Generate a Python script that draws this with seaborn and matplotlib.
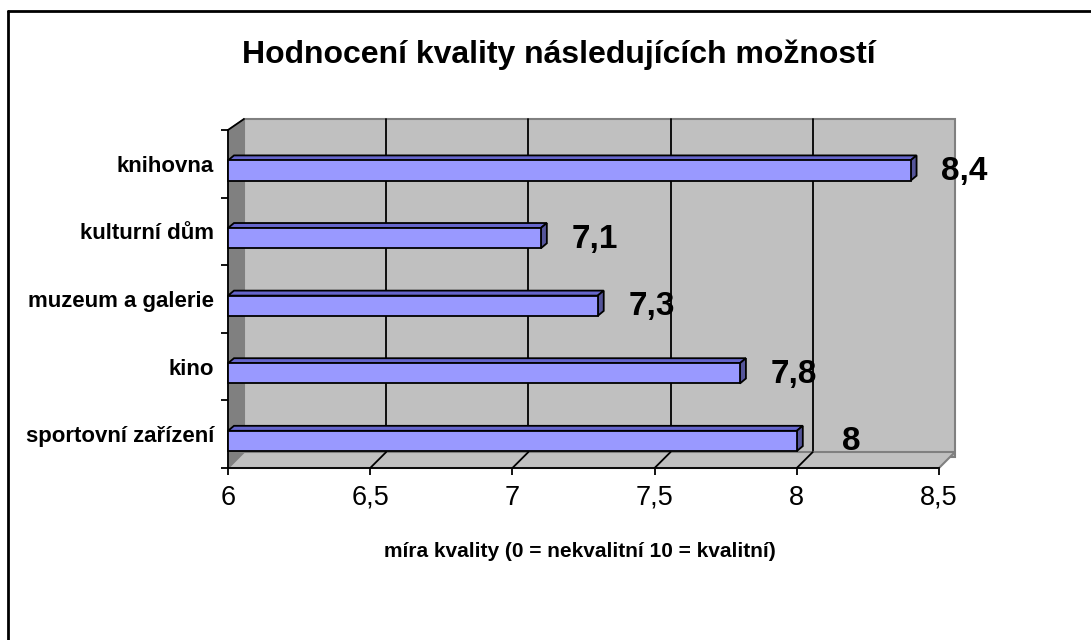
import numpy as np
import pandas as pd
import matplotlib
matplotlib.use('Agg')
import matplotlib.pyplot as plt
import seaborn as sns
from matplotlib.patches import Polygon
from matplotlib.lines import Line2D

categories = ['knihovna', 'kulturní dům', 'muzeum a galerie', 'kino', 'sportovní zařízení']
values = [8.4, 7.1, 7.3, 7.8, 8.0]
value_labels = ['8,4', '7,1', '7,3', '7,8', '8']
x_ticks = [6, 6.5, 7, 7.5, 8, 8.5]
x_tick_labels = ['6', '6,5', '7', '7,5', '8', '8,5']

title = 'Hodnocení kvality následujících možností'
x_title = 'míra kvality (0 = nekvalitní 10 = kvalitní)'

W, H = 1091, 640
sns.set_style('white')
plt.rcParams['font.family'] = ['Liberation Sans', 'DejaVu Sans']
plt.rcParams['text.color'] = 'black'
plt.rcParams['xtick.color'] = 'black'
plt.rcParams['ytick.color'] = 'black'
plt.rcParams['axes.labelcolor'] = 'black'

fig = plt.figure(figsize=(W / 100, H / 100), dpi=100)
# front plane of the 3d plot area (pixels: x 228..939, y 130..468)
ax = fig.add_axes([228 / W, 1 - 468 / H, 711 / W, 338 / H])

df = pd.DataFrame({'kategorie': categories, 'hodnota': values})
sns.barplot(data=df, x='hodnota', y='kategorie', orient='h', width=0.3,
            color='#9999ff', saturation=1, edgecolor='black', linewidth=1.3,
            ax=ax, zorder=5)
bars = list(ax.patches)

x0, x1 = x_ticks[0], x_ticks[-1]
ybot, ytop = 4.4, -0.6
ax.set_xlim(x0, x1)
ax.set_ylim(ybot, ytop)

# pixel offsets for the fake 3d depth
sx = 711 / (x1 - x0)
sy = 338 / (ybot - ytop)


def off(x, y, dxp=16, dyp=11):
    return (x + dxp / sx, y - dyp / sy)


def poly(pts, fc, ec, z, lw=1.0):
    ax.add_patch(Polygon(pts, closed=True, facecolor=fc, edgecolor=ec,
                         linewidth=lw, zorder=z, clip_on=False))


# back wall, side wall, floor (floor has some thickness)
poly([off(x0, ytop), off(x1, ytop), off(x1, ybot), off(x0, ybot)], '#c0c0c0', '#808080', 0, 1.5)
poly([(x0, ytop), off(x0, ytop), off(x0, ybot), (x0, ybot)], '#808080', '#808080', 0.5)
poly([(x0, ybot), (x1, ybot), off(x1, ybot, 16, 16), off(x0, ybot, 16, 16)], '#c0c0c0', '#808080', 0.6, 1.5)
ax.add_line(Line2D(*zip((x0, ytop), off(x0, ytop)), color='black', lw=1.3, zorder=1, clip_on=False))

# gridlines on the wall and the floor
for t in x_ticks[1:-1]:
    ax.add_line(Line2D(*zip(off(t, ybot), off(t, ytop)), color='black', lw=1.3, zorder=0.2, clip_on=False))
    ax.add_line(Line2D(*zip((t, ybot), off(t, ybot, 16, 16)), color='black', lw=1.3, zorder=1, clip_on=False))

# bars: start at the axis, add top and side faces
for bar, val, lbl in zip(bars, values, value_labels):
    y = bar.get_y()
    h = bar.get_height()
    bar.set_x(x0)
    bar.set_width(val - x0)
    bar.set_clip_on(False)
    poly([(x0, y), (val, y), off(val, y, 6, 5), off(x0, y, 6, 5)], '#6666cc', 'black', 4, 1.3)
    poly([(val, y), (val, y + h), off(val, y + h, 6, 5), off(val, y, 6, 5)], '#55559a', 'black', 4, 1.3)
    ax.annotate(lbl, xy=(val, y + h / 2), xytext=(54 * 0.72, -1 * 0.72),
                textcoords='offset points', ha='center', va='center',
                fontsize=24, fontweight='bold', color='black', zorder=6)

ax.set_xlabel('')
ax.set_ylabel('')
ax.set_xticks(x_ticks, labels=x_tick_labels)
ax.tick_params(axis='x', length=5, width=1.3, pad=7, labelsize=19.5, color='black', direction='out', bottom=True)
ax.set_yticks(np.arange(len(categories)) - 0.1, labels=categories)
ax.set_yticks(np.arange(len(categories) + 1) - 0.6, minor=True)
ax.tick_params(axis='y', which='major', length=0, pad=10, labelsize=16)
ax.tick_params(axis='y', which='minor', length=5, width=1.3, color='black', direction='out', left=True)
for t in ax.get_yticklabels():
    t.set_fontweight('bold')

for side in ['top', 'right']:
    ax.spines[side].set_visible(False)
for side in ['left', 'bottom']:
    ax.spines[side].set_color('black')
    ax.spines[side].set_linewidth(1.3)
    ax.spines[side].set_zorder(3)

fig.text(559 / W, 1 - 63 / H, title, ha='center', va='baseline', fontsize=23, fontweight='bold')
fig.text(580 / W, 1 - 557 / H, x_title, ha='center', va='baseline', fontsize=15, fontweight='bold')

# chart border (left and top edges)
fig.add_artist(Line2D([8 / W, 8 / W], [0, 1 - 11 / H], color='black', lw=2))
fig.add_artist(Line2D([8 / W, 1], [1 - 11 / H, 1 - 11 / H], color='black', lw=2))

fig.savefig('out.png', dpi=100)
